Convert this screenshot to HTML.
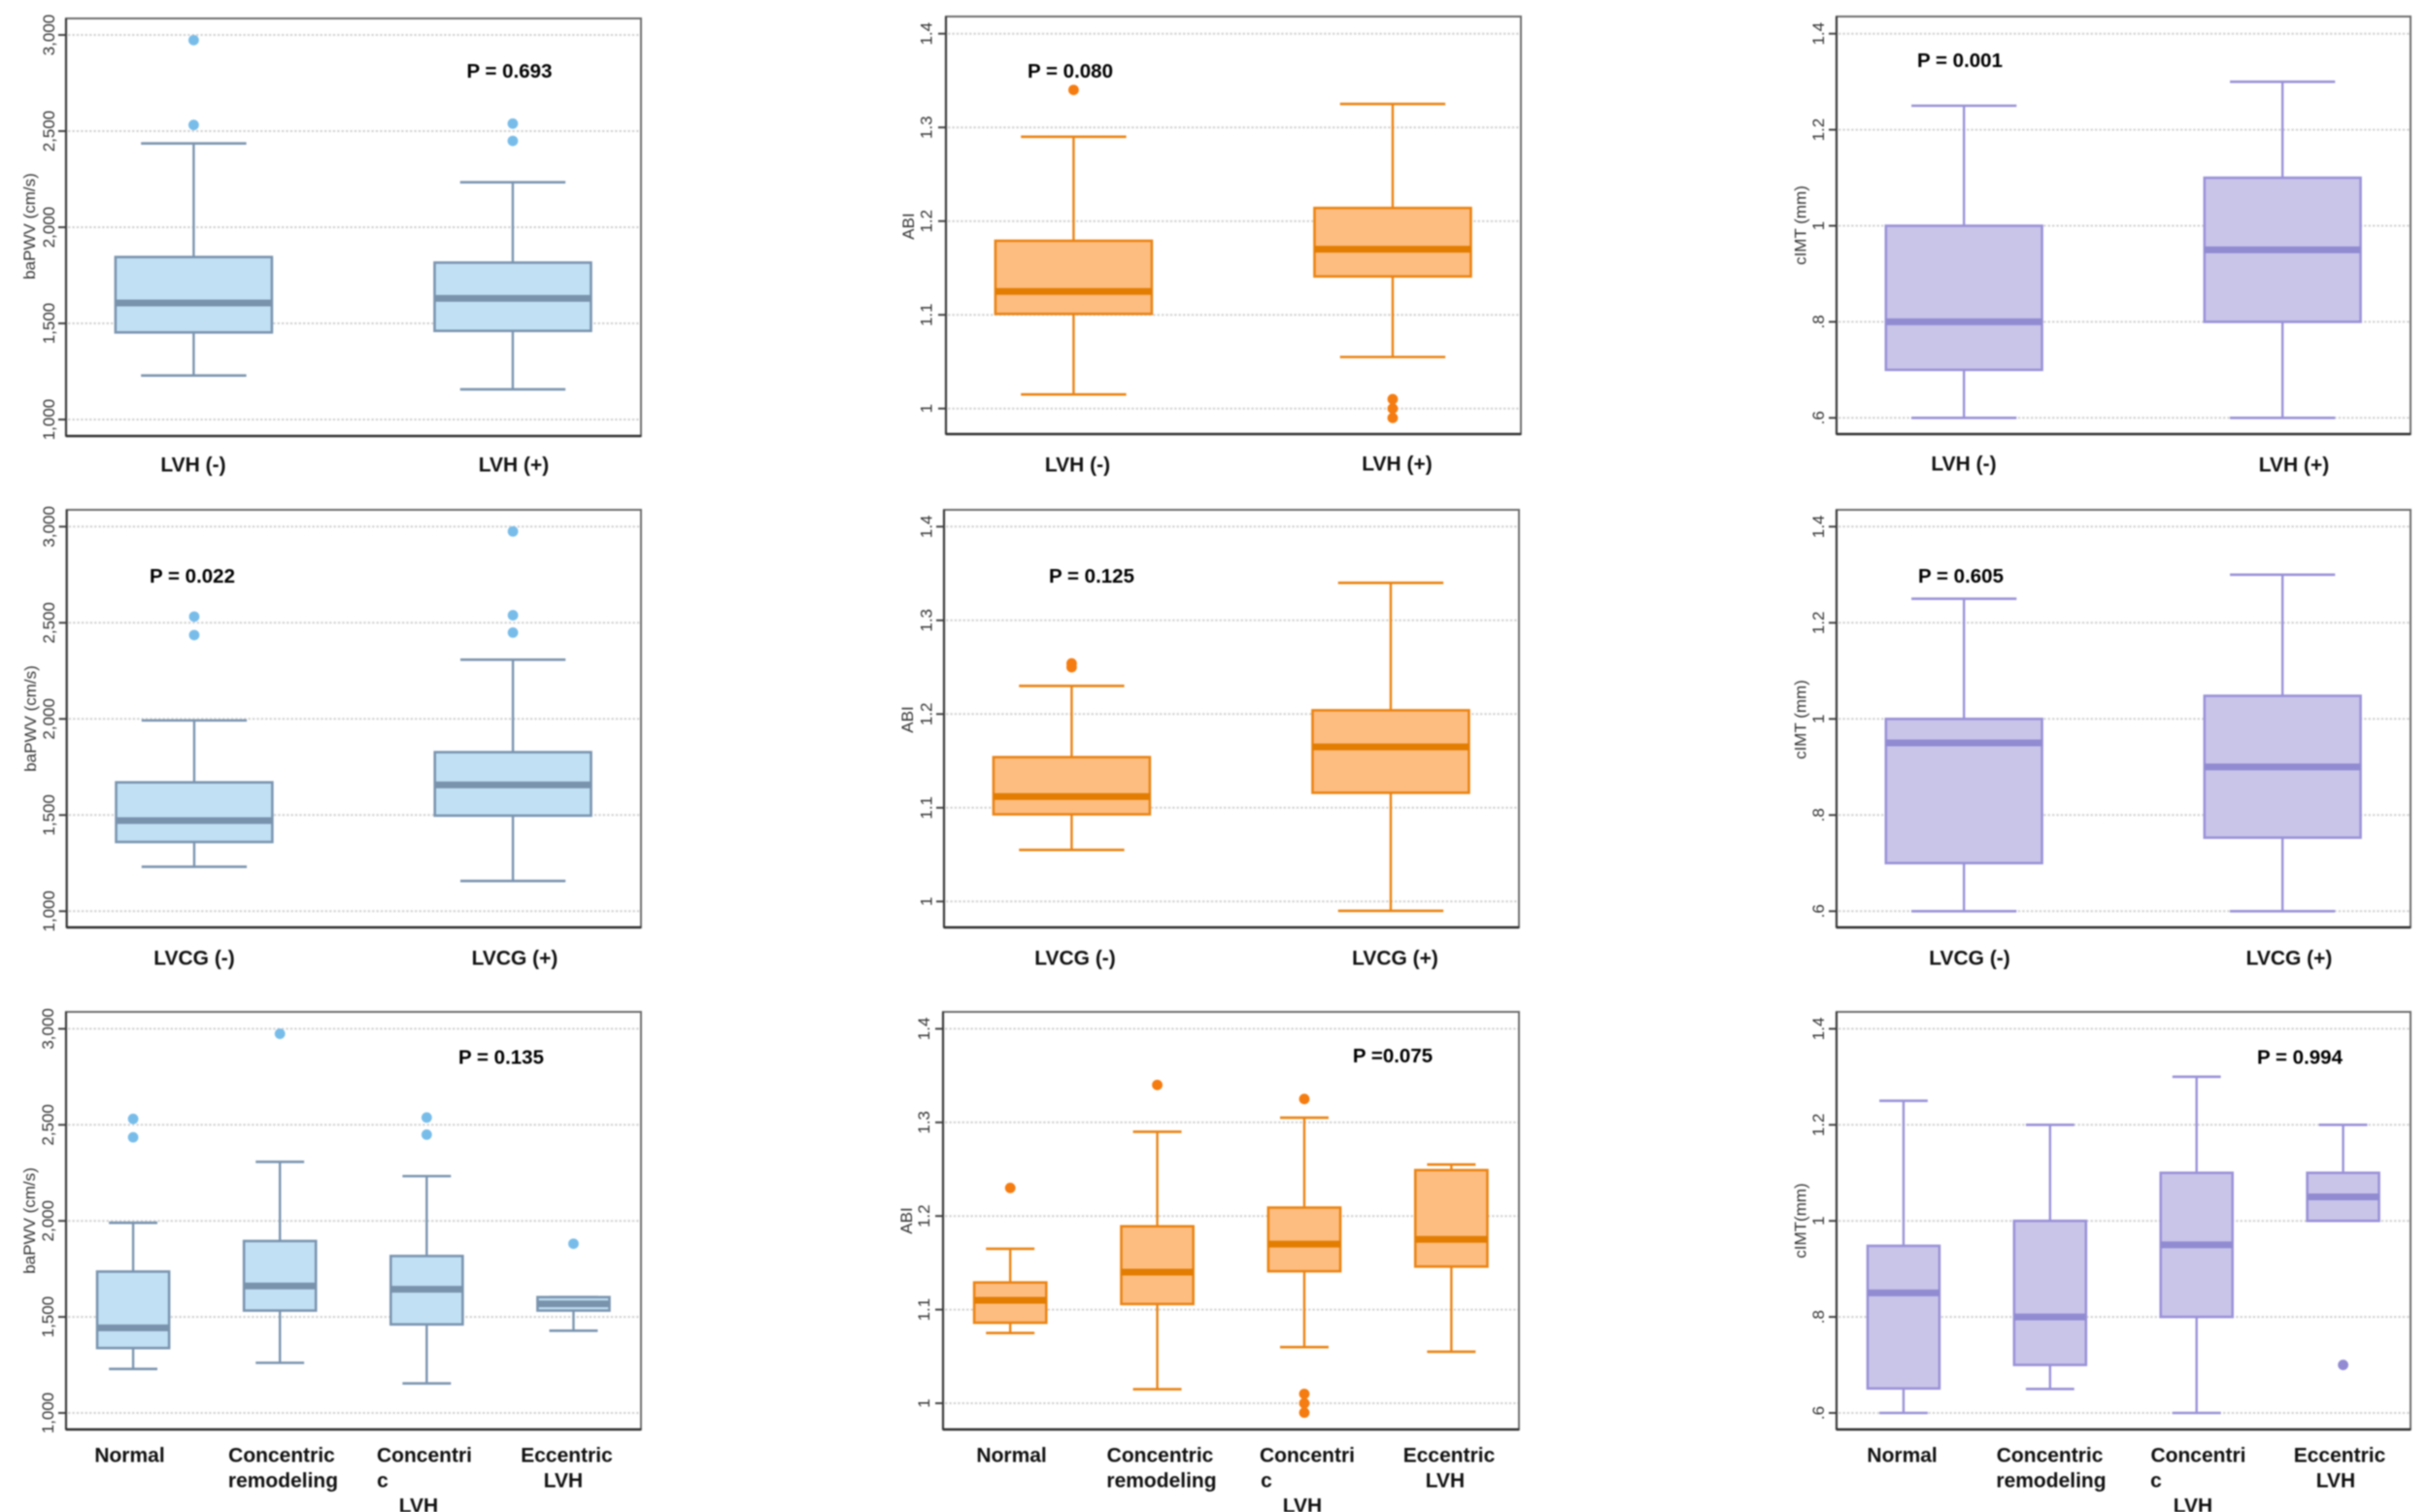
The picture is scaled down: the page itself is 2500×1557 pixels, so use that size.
<!DOCTYPE html>
<html lang="en">
<head>
<meta charset="utf-8">
<title>Vascular measures by LV geometry: box plots</title>
<style>
  html, body { margin: 0; padding: 0; background: #fff; }
  #figure { display: block; width: 2500px; height: 1557px; filter: blur(0.7px); font-family: "Liberation Sans", Arial, sans-serif; }
  .tick-label, .axis-title { font-size: 17px; fill: #333; }
  .cat-label { font-size: 21px; font-weight: bold; fill: #111; }
  .p-label { font-size: 20.5px; font-weight: bold; fill: #000; }
</style>
</head>
<body>
<svg id="figure" xmlns="http://www.w3.org/2000/svg" width="2500" height="1557" viewBox="0 0 2500 1557"></svg>
<script>
// Tick values and printed tick labels
const pwvTicks = [1000, 1500, 2000, 2500, 3000];
const pwvTickLabels = ['1,000', '1,500', '2,000', '2,500', '3,000'];
const abiTicks = [1, 1.1, 1.2, 1.3, 1.4];
const abiTickLabels = ['1', '1.1', '1.2', '1.3', '1.4'];
const imtTicks = [0.6, 0.8, 1, 1.2, 1.4];
const imtTickLabels = ['.6', '.8', '1', '1.2', '1.4'];

// Category labels, one array of printed lines per category
const lvhCategories = [['LVH (-)'], ['LVH (+)']];
const lvcgCategories = [['LVCG (-)'], ['LVCG (+)']];
const geometryCategories = [['Normal'], ['Concentric', 'remodeling'], ['Concentri', 'c', 'LVH'], ['Eccentric', 'LVH']];

// baPWV by LVH
const pwvLvhHigh = [2436, 2234];
const pwvLvhQ3 = [1845, 1816];
const pwvLvhMedian = [1606, 1630];
const pwvLvhQ1 = [1453, 1461];
const pwvLvhLow = [1229, 1157];
const pwvLvhOutliers = [[2973, 2532], [2539, 2449]];

// ABI by LVH
const abiLvhHigh = [1.29, 1.325];
const abiLvhQ3 = [1.179, 1.214];
const abiLvhMedian = [1.125, 1.17];
const abiLvhQ1 = [1.101, 1.141];
const abiLvhLow = [1.015, 1.055];
const abiLvhOutliers = [[1.34], [1.01, 1.0, 0.99]];

// cIMT by LVH
const imtLvhHigh = [1.25, 1.3];
const imtLvhQ3 = [1.0, 1.1];
const imtLvhMedian = [0.8, 0.95];
const imtLvhQ1 = [0.7, 0.8];
const imtLvhLow = [0.6, 0.6];
const imtLvhOutliers = [[], []];

// baPWV by LVCG
const pwvLvcgHigh = [1992, 2308];
const pwvLvcgQ3 = [1670, 1827];
const pwvLvcgMedian = [1471, 1657];
const pwvLvcgQ1 = [1360, 1497];
const pwvLvcgLow = [1231, 1157];
const pwvLvcgOutliers = [[2532, 2436], [2975, 2539, 2449]];

// ABI by LVCG
const abiLvcgHigh = [1.23, 1.34];
const abiLvcgQ3 = [1.154, 1.204];
const abiLvcgMedian = [1.112, 1.165];
const abiLvcgQ1 = [1.093, 1.116];
const abiLvcgLow = [1.055, 0.99];
const abiLvcgOutliers = [[1.254, 1.25], []];

// cIMT by LVCG
const imtLvcgHigh = [1.25, 1.3];
const imtLvcgQ3 = [1.0, 1.048];
const imtLvcgMedian = [0.95, 0.9];
const imtLvcgQ1 = [0.7, 0.753];
const imtLvcgLow = [0.6, 0.6];
const imtLvcgOutliers = [[], []];

// baPWV by LV geometry
const pwvGeoHigh = [1990, 2307, 2233, 1603];
const pwvGeoQ3 = [1736, 1895, 1817, 1603];
const pwvGeoMedian = [1443, 1661, 1644, 1568];
const pwvGeoQ1 = [1338, 1533, 1461, 1533];
const pwvGeoLow = [1229, 1261, 1154, 1428];
const pwvGeoOutliers = [[2531, 2435], [2974], [2538, 2449], [1881]];

// ABI by LV geometry
const abiGeoHigh = [1.165, 1.29, 1.305, 1.255];
const abiGeoQ3 = [1.129, 1.189, 1.209, 1.249];
const abiGeoMedian = [1.11, 1.14, 1.17, 1.175];
const abiGeoQ1 = [1.086, 1.106, 1.141, 1.146];
const abiGeoLow = [1.075, 1.015, 1.06, 1.055];
const abiGeoOutliers = [[1.23], [1.34], [1.325, 1.01, 1.0, 0.99], []];

// cIMT by LV geometry
const imtGeoHigh = [1.25, 1.2, 1.3, 1.2];
const imtGeoQ3 = [0.948, 1.0, 1.1, 1.1];
const imtGeoMedian = [0.85, 0.8, 0.95, 1.05];
const imtGeoQ1 = [0.651, 0.7, 0.8, 1.0];
const imtGeoLow = [0.6, 0.65, 0.6, 1.0];
const imtGeoOutliers = [[], [], [], [0.7]];

// Colour themes
const palettes = {
  blue: { fill: '#c1e0f4', line: '#7b95b0', median: '#7a93ad', dot: '#78bdea' },
  orange: { fill: '#fdbd80', line: '#ea8414', median: '#e27d02', dot: '#f57c10' },
  purple: { fill: '#c9c5e9', line: '#9a92d8', median: '#918bd2', dot: '#928bd3' }
};

// Panel wiring: data references plus page layout
const panels = [
  { key: 'pwv-lvh', left: 68, right: 660, top: 19, bottom: 449, yLow: 432, yHigh: 36, ticks: pwvTicks, tickLabels: pwvTickLabels, palette: 'blue',
    high: pwvLvhHigh, q3: pwvLvhQ3, median: pwvLvhMedian, q1: pwvLvhQ1, low: pwvLvhLow, outliers: pwvLvhOutliers, cats: lvhCategories,
    tickX: 50, title: 'baPWV (cm/s)', titleX: 30, titleY: 233, pText: 'P = 0.693', pX: 524.5, pY: 73,
    labelX: [[199], [529]], labelY: [478, 478] },
  { key: 'abi-lvh', left: 974, right: 1566, top: 17, bottom: 447, yLow: 420.7, yHigh: 34.7, ticks: abiTicks, tickLabels: abiTickLabels, palette: 'orange',
    high: abiLvhHigh, q3: abiLvhQ3, median: abiLvhMedian, q1: abiLvhQ1, low: abiLvhLow, outliers: abiLvhOutliers, cats: lvhCategories,
    tickX: 953.5, title: 'ABI', titleX: 935, titleY: 233, pText: 'P = 0.080', pX: 1102, pY: 73,
    labelX: [[1109.5], [1438.5]], labelY: [478, 477] },
  { key: 'imt-lvh', left: 1891, right: 2482, top: 17, bottom: 447, yLow: 430.3, yHigh: 34.7, ticks: imtTicks, tickLabels: imtTickLabels, palette: 'purple',
    high: imtLvhHigh, q3: imtLvhQ3, median: imtLvhMedian, q1: imtLvhQ1, low: imtLvhLow, outliers: imtLvhOutliers, cats: lvhCategories,
    tickX: 1872, title: 'cIMT (mm)', titleX: 1853.5, titleY: 232, pText: 'P = 0.001', pX: 2018, pY: 62,
    labelX: [[2022], [2362]], labelY: [477, 478] },
  { key: 'pwv-lvcg', left: 68.7, right: 660, top: 525, bottom: 955, yLow: 938.3, yHigh: 542.3, ticks: pwvTicks, tickLabels: pwvTickLabels, palette: 'blue',
    high: pwvLvcgHigh, q3: pwvLvcgQ3, median: pwvLvcgMedian, q1: pwvLvcgQ1, low: pwvLvcgLow, outliers: pwvLvcgOutliers, cats: lvcgCategories,
    tickX: 50, title: 'baPWV (cm/s)', titleX: 31, titleY: 740, pText: 'P = 0.022', pX: 198, pY: 593,
    labelX: [[200], [530]], labelY: [986, 986] },
  { key: 'abi-lvcg', left: 972, right: 1564, top: 525, bottom: 955, yLow: 928.3, yHigh: 542.3, ticks: abiTicks, tickLabels: abiTickLabels, palette: 'orange',
    high: abiLvcgHigh, q3: abiLvcgQ3, median: abiLvcgMedian, q1: abiLvcgQ1, low: abiLvcgLow, outliers: abiLvcgOutliers, cats: lvcgCategories,
    tickX: 953.5, title: 'ABI', titleX: 934, titleY: 741, pText: 'P = 0.125', pX: 1124, pY: 593,
    labelX: [[1107], [1436.5]], labelY: [986, 986] },
  { key: 'imt-lvcg', left: 1891, right: 2482, top: 525, bottom: 955, yLow: 938.3, yHigh: 542.3, ticks: imtTicks, tickLabels: imtTickLabels, palette: 'purple',
    high: imtLvcgHigh, q3: imtLvcgQ3, median: imtLvcgMedian, q1: imtLvcgQ1, low: imtLvcgLow, outliers: imtLvcgOutliers, cats: lvcgCategories,
    tickX: 1872, title: 'cIMT (mm)', titleX: 1853.5, titleY: 741, pText: 'P = 0.605', pX: 2019, pY: 593,
    labelX: [[2028], [2357]], labelY: [986, 986] },
  { key: 'pwv-geometry', left: 68, right: 660, top: 1042, bottom: 1472, yLow: 1455, yHigh: 1059.4, ticks: pwvTicks, tickLabels: pwvTickLabels, palette: 'blue',
    high: pwvGeoHigh, q3: pwvGeoQ3, median: pwvGeoMedian, q1: pwvGeoQ1, low: pwvGeoLow, outliers: pwvGeoOutliers, cats: geometryCategories,
    tickX: 49, title: 'baPWV (cm/s)', titleX: 30, titleY: 1257, pText: 'P = 0.135', pX: 516, pY: 1088.5,
    labelX: [[133.5], [290, 291.5], [437, 394, 431], [583.5, 580]], labelY: [1498, 1498, 1498, 1498] },
  { key: 'abi-geometry', left: 971, right: 1564, top: 1042, bottom: 1472, yLow: 1445, yHigh: 1059.4, ticks: abiTicks, tickLabels: abiTickLabels, palette: 'orange',
    high: abiGeoHigh, q3: abiGeoQ3, median: abiGeoMedian, q1: abiGeoQ1, low: abiGeoLow, outliers: abiGeoOutliers, cats: geometryCategories,
    tickX: 951, title: 'ABI', titleX: 933, titleY: 1257, pText: 'P =0.075', pX: 1434, pY: 1087,
    labelX: [[1041.6], [1194.5, 1196], [1346, 1304, 1341], [1492, 1488]], labelY: [1498, 1498, 1498, 1498] },
  { key: 'imt-geometry', left: 1891, right: 2482, top: 1042, bottom: 1472, yLow: 1455, yHigh: 1059.4, ticks: imtTicks, tickLabels: imtTickLabels, palette: 'purple',
    high: imtGeoHigh, q3: imtGeoQ3, median: imtGeoMedian, q1: imtGeoQ1, low: imtGeoLow, outliers: imtGeoOutliers, cats: geometryCategories,
    tickX: 1872, title: 'cIMT(mm)', titleX: 1853.5, titleY: 1257, pText: 'P = 0.994', pX: 2368, pY: 1088.5,
    labelX: [[1958.6], [2110.6, 2112], [2263.5, 2220, 2258], [2409, 2405]], labelY: [1498, 1498, 1498, 1498] }
];

const SVG_NS = 'http://www.w3.org/2000/svg';
const figure = document.getElementById('figure');

function make(parent, tag, attrs, text) {
  const el = document.createElementNS(SVG_NS, tag);
  for (const k in attrs) el.setAttribute(k, attrs[k]);
  if (text !== undefined) el.textContent = text;
  parent.appendChild(el);
  return el;
}

function xLayout(n) {
  return n === 2 ? { pad: 0.222, step: 0.555 } : { pad: 0.1167, step: 0.2553 };
}

function drawPanel(p) {
  const colors = palettes[p.palette];
  const g = make(figure, 'g', {});
  
  

  const domainLow = p.ticks[0];
  const domainHigh = p.ticks[p.ticks.length - 1];
  const yScale = v => p.yLow + (v - domainLow) / (domainHigh - domainLow) * (p.yHigh - p.yLow);
  const n = p.cats.length;
  const lay = xLayout(n);
  const w = p.right - p.left;
  const xScale = i => p.left + w * (lay.pad + i * lay.step);
  const boxW = 0.49 * lay.step * w;
  const capW = 0.33 * lay.step * w;

  // Background and gridlines
  const plotBg = make(g, 'rect', { x: p.left, y: p.top, width: w, height: p.bottom - p.top, fill: '#fff' });
  
  

  p.ticks.forEach((t, i) => {
    const y = yScale(t);
    const grid = make(g, 'line', { x1: p.left + 2, x2: p.right, y1: y, y2: y, stroke: '#d2d2d2', 'stroke-width': 2, 'stroke-dasharray': '2.4 2' });
    
    
    const tick = make(g, 'line', { x1: p.left - 8, x2: p.left, y1: y, y2: y, stroke: '#444', 'stroke-width': 2 });
    
    
    const lab = make(g, 'text', { class: 'tick-label', x: p.tickX, y: y, dy: '0.35em', 'text-anchor': 'middle', transform: 'rotate(-90 ' + p.tickX + ' ' + y + ')' }, p.tickLabels[i]);
    
    
  });

  // Boxes
  for (let i = 0; i < n; i++) {
    const cx = xScale(i);
    const box = make(g, 'g', {});
    
    

    const stem = make(box, 'line', { x1: cx, x2: cx, y1: yScale(p.high[i]), y2: yScale(p.low[i]), stroke: colors.line, 'stroke-width': 2.4 });
    
    

    const capHigh = make(box, 'line', { x1: cx - capW / 2, x2: cx + capW / 2, y1: yScale(p.high[i]), y2: yScale(p.high[i]), stroke: colors.line, 'stroke-width': 2.6 });
    
    

    const capLow = make(box, 'line', { x1: cx - capW / 2, x2: cx + capW / 2, y1: yScale(p.low[i]), y2: yScale(p.low[i]), stroke: colors.line, 'stroke-width': 2.6 });
    
    

    const yQ3 = yScale(p.q3[i]);
    const yQ1 = yScale(p.q1[i]);
    const rect = make(box, 'rect', { x: cx - boxW / 2, y: yQ3, width: boxW, height: yQ1 - yQ3, fill: colors.fill, stroke: colors.line, 'stroke-width': 2.6 });
    
    

    const med = make(box, 'line', { x1: cx - boxW / 2, x2: cx + boxW / 2, y1: yScale(p.median[i]), y2: yScale(p.median[i]), stroke: colors.median, 'stroke-width': 7 });
    
    

    p.outliers[i].forEach(v => {
      const dot = make(box, 'circle', { cx: cx, cy: yScale(v), r: 5.4, fill: colors.dot });
      
      
    });

    p.cats[i].forEach((line, j) => {
      const lab = make(g, 'text', { class: 'cat-label', x: p.labelX[i][j], y: p.labelY[i] + j * 26, dy: '0.35em', 'text-anchor': 'middle' }, line);
      
      
    });
  }

  // Frame
  const frame = make(g, 'rect', { x: p.left, y: p.top, width: w, height: p.bottom - p.top, fill: 'none', stroke: '#6e6e6e', 'stroke-width': 2 });
  
  
  const yAxis = make(g, 'line', { x1: p.left, x2: p.left, y1: p.top, y2: p.bottom, stroke: '#3a3a3a', 'stroke-width': 2.2 });
  
  
  const xAxis = make(g, 'line', { x1: p.left, x2: p.right, y1: p.bottom, y2: p.bottom, stroke: '#2e2e2e', 'stroke-width': 2.4 });
  
  

  // Titles
  const title = make(g, 'text', { class: 'axis-title', x: p.titleX, y: p.titleY, dy: '0.35em', 'text-anchor': 'middle', transform: 'rotate(-90 ' + p.titleX + ' ' + p.titleY + ')' }, p.title);
  
  
  const pLabel = make(g, 'text', { class: 'p-label', x: p.pX, y: p.pY, dy: '0.35em', 'text-anchor': 'middle' }, p.pText);
  
  
}

panels.forEach(drawPanel);
</script>
</body>
</html>
